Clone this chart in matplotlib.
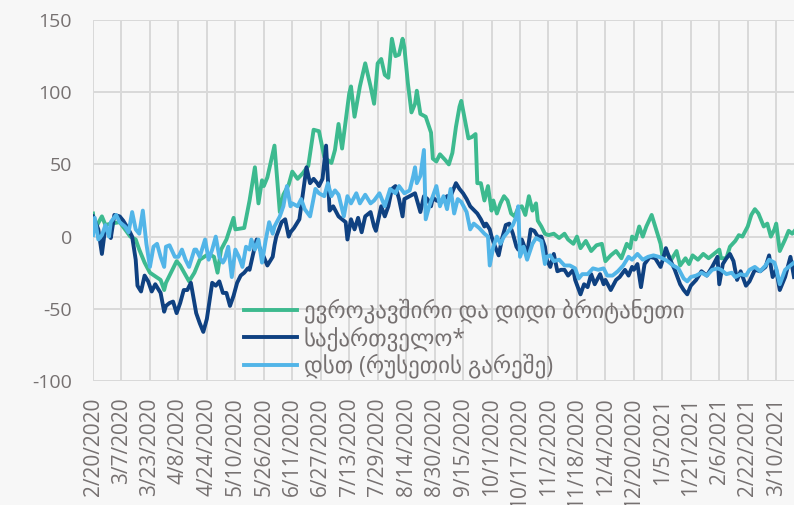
import matplotlib.pyplot as plt
import numpy as np
import pandas as pd

plt.rcParams['font.family'] = ['Open Sans', 'DejaVu Sans']
plt.rcParams['axes.unicode_minus'] = False

start = pd.Timestamp('2020-02-20')

# days since 2/20/2020 and index values
eu_days = [0, 1, 5, 7, 10, 15, 21, 24, 26, 29, 32, 38, 40, 41, 47, 49, 54, 57, 60, 65,
           68, 70, 72, 75, 79, 80, 85, 88, 91, 93, 95, 96, 98, 102, 105, 107, 110, 112, 115, 118,
           121, 124, 127, 130, 134, 136, 138, 140, 144, 145, 147, 150, 153, 156, 158, 160, 162, 164, 166, 168,
           170, 172, 174, 175, 177, 179, 181, 182, 184, 187, 190, 191, 193, 195, 198, 200, 202, 204, 206, 207,
           209, 211, 213, 215, 216, 218, 220, 222, 224, 225, 227, 229, 231, 233, 235, 237, 239, 241, 243, 245,
           247, 249, 250, 252, 254, 256, 259, 262, 265, 267, 270, 272, 274, 277, 280, 283, 286, 288, 291, 294,
           297, 300, 302, 303, 305, 307, 309, 311, 314, 316, 319, 320, 323, 325, 328, 330, 333, 335, 337, 340,
           343, 346, 349, 352, 353, 356, 358, 361, 363, 365, 368, 370, 372, 374, 377, 379, 381, 383, 384, 386,
           389, 391, 393, 395]
eu_vals = [16, 5, 14, 8, 9, 10, 0, -2, -9, -18, -25, -30, -37, -32, -17, -20, -31, -25, -16, -12,
           -14, -25, -9, -2, 13, 5, 6, 25, 48, 23, 39, 35, 41, 63, 17, 29, 36, 45, 40, 44,
           49, 74, 73, 55, 51, 60, 78, 61, 99, 104, 83, 104, 120, 104, 92, 120, 123, 112, 110, 137,
           125, 126, 137, 131, 106, 86, 92, 101, 85, 83, 72, 54, 52, 57, 53, 50, 58, 76, 90, 94,
           81, 68, 69, 71, 37, 37, 25, 35, 18, 25, 16, 23, 28, 25, 16, 14, 20, 21, 15, 28,
           18, 23, 11, 7, 2, 1, 2, -1, 2, -2, -5, 0, -8, -3, -10, -6, -5, -17, -13, -10,
           -15, -5, -8, 0, -2, 7, 0, 7, 15, 7, -5, -13, -12, -16, -10, -20, -15, -19, -13, -16,
           -12, -15, -12, -9, -15, -15, -7, -3, 1, 0, 7, 15, 19, 16, 7, 9, 0, 5, 9, -10,
           -2, 4, 2, 5]

geo_days = [0, 3, 5, 7, 9, 10, 12, 15, 17, 20, 22, 24, 25, 27, 29, 31, 33, 35, 38, 40,
            41, 43, 45, 47, 49, 51, 53, 55, 57, 58, 60, 62, 64, 67, 69, 71, 73, 75, 77, 79,
            81, 83, 85, 87, 88, 90, 92, 94, 96, 98, 101, 102, 103, 106, 108, 110, 111, 113, 116, 118,
            120, 122, 124, 126, 127, 129, 131, 133, 135, 138, 140, 142, 143, 145, 147, 149, 151, 153, 156, 158,
            159, 162, 164, 166, 168, 170, 172, 174, 175, 178, 181, 184, 186, 188, 190, 191, 193, 196, 199, 201,
            204, 206, 208, 210, 212, 216, 218, 220, 221, 223, 224, 226, 228, 230, 232, 234, 236, 238, 239, 241,
            244, 246, 248, 250, 252, 254, 255, 257, 259, 261, 263, 265, 267, 270, 271, 274, 276, 278, 280, 282,
            285, 287, 288, 291, 294, 296, 299, 301, 303, 304, 306, 308, 310, 313, 316, 319, 320, 322, 324, 327,
            330, 332, 334, 336, 339, 342, 345, 348, 351, 352, 354, 356, 358, 360, 362, 364, 367, 369, 372, 375,
            378, 380, 382, 384, 386, 389, 392, 394]
geo_vals = [14, 5, -12, 7, 2, -1, 15, 14, 11, 5, 0, -16, -34, -38, -27, -31, -38, -33, -39, -52,
            -48, -46, -45, -53, -46, -37, -37, -32, -46, -53, -60, -66, -57, -32, -34, -31, -39, -39, -48, -41,
            -32, -27, -25, -22, -23, -12, -2, -9, -14, -20, -14, -6, 0, 10, 12, 0, 3, 6, 12, 30,
            48, 37, 40, 37, 35, 40, 63, 18, 21, 14, 12, 10, -2, 12, 5, 13, 3, 14, 17, 7,
            4, 21, 14, 21, 33, 35, 26, 14, 26, 28, 30, 17, 28, 26, 21, 27, 25, 24, 28, 28,
            37, 33, 30, 26, 21, 16, 12, 7, 9, 5, 0, -7, -13, -1, 8, 9, 2, -7, -9, -2,
            -12, 5, 4, 0, 0, -7, -16, -21, -12, -24, -23, -23, -27, -23, -30, -40, -33, -35, -26, -33,
            -26, -33, -30, -37, -30, -28, -23, -27, -21, -23, -19, -35, -19, -14, -15, -21, -17, -8, -15, -23,
            -33, -37, -40, -34, -30, -24, -27, -21, -14, -33, -19, -15, -12, -17, -30, -24, -34, -31, -23, -24,
            -21, -13, -28, -23, -37, -28, -14, -28]

cis_days = [0, 1, 3, 5, 7, 9, 10, 13, 15, 18, 20, 22, 24, 26, 28, 30, 32, 34, 36, 38,
            40, 41, 43, 46, 48, 50, 52, 54, 57, 58, 60, 63, 65, 67, 69, 71, 73, 74, 76, 78,
            80, 82, 84, 86, 88, 89, 91, 93, 95, 97, 99, 101, 102, 105, 107, 109, 111, 112, 115, 117,
            119, 122, 125, 127, 130, 132, 134, 136, 138, 141, 143, 145, 148, 150, 153, 156, 158, 161, 164, 167,
            170, 172, 175, 178, 180, 181, 182, 184, 186, 187, 189, 191, 193, 195, 197, 199, 201, 203, 205, 207,
            210, 212, 214, 217, 220, 222, 223, 225, 227, 229, 231, 233, 236, 238, 239, 240, 242, 244, 247, 249,
            252, 254, 255, 257, 259, 262, 265, 268, 271, 273, 275, 278, 281, 284, 287, 289, 292, 295, 298, 301,
            303, 306, 309, 312, 315, 318, 320, 323, 326, 329, 332, 334, 336, 339, 342, 345, 348, 351, 353, 356,
            359, 361, 364, 367, 369, 372, 375, 378, 380, 383, 384, 386, 389, 392, 395]
cis_vals = [1, 13, -2, 1, 8, 0, 10, 15, 10, 7, 3, 17, 5, 2, 18, -5, -21, -7, -5, -14,
            -21, -7, -6, -14, -14, -9, -16, -21, -9, -9, -14, -2, -16, -9, 0, -14, -18, -16, -7, -28,
            -9, -14, -21, -7, -9, -2, -9, -2, -18, -3, 10, 2, 7, 14, 21, 35, 21, 23, 21, 26,
            19, 14, 33, 30, 28, 37, 28, 32, 29, 14, 28, 23, 30, 23, 29, 23, 25, 30, 21, 33,
            30, 35, 30, 32, 42, 48, 37, 42, 60, 12, 21, 28, 35, 21, 28, 19, 33, 16, 26, 24,
            17, 5, 9, 6, 2, 0, -20, -7, 0, -5, 0, 3, 8, 14, 21, -14, -7, -16, -5, -1,
            -3, -19, -14, -13, -17, -16, -20, -20, -22, -29, -26, -26, -22, -23, -22, -27, -27, -24, -20, -14,
            -16, -12, -16, -14, -13, -14, -15, -17, -20, -22, -29, -31, -28, -27, -25, -27, -23, -22, -23, -26,
            -25, -28, -26, -27, -23, -21, -24, -20, -16, -18, -22, -33, -23, -20, -17]

tick_labels = ['2/20/2020', '3/7/2020', '3/23/2020', '4/8/2020', '4/24/2020', '5/10/2020',
               '5/26/2020', '6/11/2020', '6/27/2020', '7/13/2020', '7/29/2020', '8/14/2020',
               '8/30/2020', '9/15/2020', '10/1/2020', '10/17/2020', '11/2/2020', '11/18/2020',
               '12/4/2020', '12/20/2020', '1/5/2021', '1/21/2021', '2/6/2021', '2/22/2021', '3/10/2021']
tick_pos = (pd.to_datetime(tick_labels, format='%m/%d/%Y') - start).days

names = ['ევროკავშირი და დიდი ბრიტანეთი', 'საქართველო*', 'დსთ (რუსეთის გარეშე)']
colors = ['#3dba8f', '#0f4181', '#52b5e8']

bg = '#f7f7f7'
grid_c = '#d9d9d9'
text_c = '#767171'

fig = plt.figure(figsize=(7.94, 5.05), dpi=100, facecolor=bg)
ax = fig.add_axes([93 / 794, 1 - 381 / 505, 1 - 93 / 794, (381 - 20) / 505])
ax.set_facecolor(bg)

ax.plot(eu_days, eu_vals, color=colors[0], lw=2.8, label=names[0], solid_joinstyle='round')
ax.plot(geo_days, geo_vals, color=colors[1], lw=2.8, label=names[1], solid_joinstyle='round')
ax.plot(cis_days, cis_vals, color=colors[2], lw=2.8, label=names[2], solid_joinstyle='round')

ax.set_xlim(0, 394)
ax.set_ylim(-100, 150)
ax.set_yticks([-100, -50, 0, 50, 100, 150])
ax.set_xticks(tick_pos)
ax.set_xticklabels(tick_labels, rotation=90, fontsize=15, color=text_c)
ax.tick_params(axis='y', labelsize=14, labelcolor=text_c, length=0, pad=15)
ax.tick_params(axis='x', length=0, pad=12)
ax.grid(True, color=grid_c, lw=1.4)
ax.set_axisbelow(True)
for s in ax.spines.values():
    s.set_visible(False)

fig.legend(loc='upper left', bbox_to_anchor=(244 / 794, 1 - 299 / 505), frameon=False,
           fontsize=16.5, labelcolor=text_c, handlelength=2.3, handletextpad=0.3,
           labelspacing=0.12, borderpad=0, borderaxespad=0)

fig.savefig('out.png', dpi=100, facecolor=bg)
